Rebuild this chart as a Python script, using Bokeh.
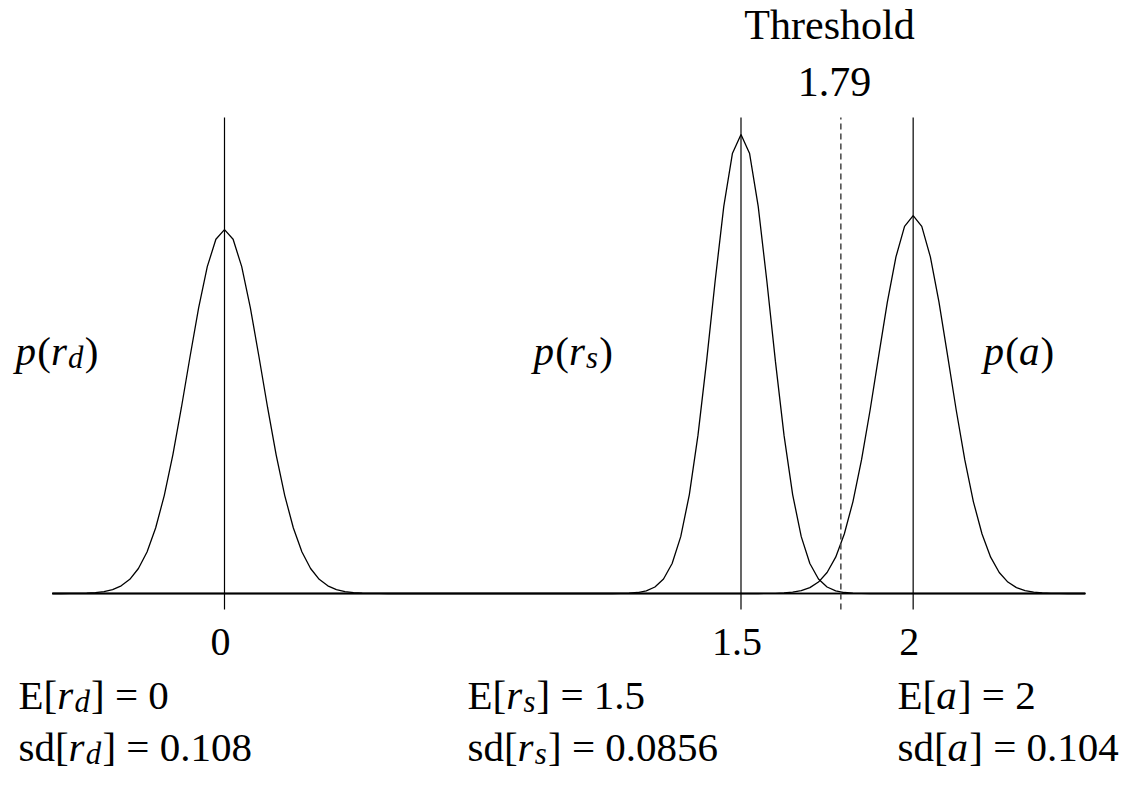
from bokeh.plotting import figure
from bokeh.models import Range1d, ColumnDataSource
from bokeh.core.properties import value
from bokeh.embed import file_html
from bokeh.resources import INLINE

# ---------------- data ----------------
MEANS = [0.0, 1.5, 2.0]
SDS = [0.108, 0.0856, 0.104]
THRESHOLD = 1.79
TICKS = [0.0, 1.5, 2.0]
TICK_LABELS = ["0", "1.5", "2"]
STEP = 0.025            # spacing of the curve vertices
X_MIN, X_MAX = -0.5, 2.5
# density values at mean, mean±STEP, mean±2*STEP, ... (curves are symmetric)
RD_HALF = [3.694, 3.596, 3.318, 2.902, 2.406, 1.891, 1.408, 0.994, 0.665, 0.422,
           0.254, 0.144, 0.078, 0.040, 0.019, 0.009, 0.004, 0.002, 0.001, 0.0]
RS_HALF = [4.661, 4.466, 3.930, 3.175, 2.356, 1.605, 1.004, 0.577, 0.304, 0.147,
           0.066, 0.027, 0.010, 0.003, 0.001, 0.0]
A_HALF = [3.836, 3.727, 3.417, 2.958, 2.416, 1.863, 1.356, 0.931, 0.604, 0.369,
          0.213, 0.116, 0.060, 0.029, 0.013, 0.006, 0.002, 0.001, 0.0]
HALVES = [RD_HALF, RS_HALF, A_HALF]
SUBS = ["d", "s", None]   # variable names: r_d, r_s, a

# ---------------- layout ----------------
W, H = 1121, 786
PX_PER_X, PX_PER_Y = 344.33, 98.5
ORIGIN_CX, ORIGIN_CY = 224, 593          # canvas px of (0, 0)
x_start = -ORIGIN_CX / PX_PER_X
x_end = (W - ORIGIN_CX) / PX_PER_X
y_end = ORIGIN_CY / PX_PER_Y
y_start = -(H - ORIGIN_CY) / PX_PER_Y


def cx(px):
    return x_start + px / PX_PER_X


def cy(py):
    return y_end - py / PX_PER_Y


p = figure(width=W, height=H, x_range=Range1d(x_start, x_end),
           y_range=Range1d(y_start, y_end), min_border=0,
           toolbar_location=None, output_backend="svg",
           x_axis_location=None, y_axis_location=None,
           outline_line_color=None, background_fill_color="white",
           border_fill_color="white")
p.grid.visible = False

# baseline (axis line)
p.segment(x0=[X_MIN], y0=[0], x1=[X_MAX], y1=[0], line_color="black", line_width=1.6)

# density curves
for mean, half in zip(MEANS, HALVES):
    n = len(half)
    ys = half[::-1] + half[1:]
    xs = [mean + STEP * k for k in range(-(n - 1), n)]
    xs = [X_MIN] + xs + [X_MAX]
    ys = [0.0] + ys + [0.0]
    p.line(xs, ys, line_color="black", line_width=1.3)

# vertical lines at the means and threshold
V_TOP, V_BOT = cy(117), cy(609)
p.segment(x0=MEANS, y0=[V_BOT] * 3, x1=MEANS, y1=[V_TOP] * 3,
          line_color="black", line_width=1.2)
p.segment(x0=[THRESHOLD], y0=[V_BOT], x1=[THRESHOLD], y1=[V_TOP],
          line_color="#444444", line_width=1.5, line_dash="6 4")

# ---------------- text ----------------
FONT = "Liberation Serif"
FS = 41
ROMAN = {"E": .611, "[": .333, "]": .333, "(": .333, ")": .333, " ": .25, "=": .564,
         ".": .25, "s": .389, "d": .5}
for dch in "0123456789":
    ROMAN[dch] = .5
ITALIC = {"p": .5, "r": .389, "d": .5, "s": .389, "a": .5}

rows = dict(x=[], y=[], text=[], xo=[], yo=[], fstyle=[], fsize=[])


def add_rich(left_px, base_px, parts, size=FS):
    off = 0.0
    for txt, kind in parts:
        s = size * 0.75 if kind == "sub" else size
        italic = kind in ("it", "sub")
        rows["x"].append(cx(left_px))
        rows["y"].append(cy(base_px))
        rows["text"].append(txt)
        rows["xo"].append(off)
        rows["yo"].append(7 if kind == "sub" else 0)
        rows["fstyle"].append("italic" if italic else "normal")
        rows["fsize"].append(f"{s:.1f}px")
        table = ITALIC if italic else ROMAN
        off += sum(table.get(c, .5) for c in txt) * s
        if italic:
            off += 0.03 * size


def var_parts(sub, letter_if_none="a"):
    if sub is None:
        return [(letter_if_none, "it")]
    return [("r", "it"), (sub, "sub")]


P_LEFT = [15, 533, 983]
P_BASE = 350
COL_LEFT = [18, 467, 897]
ROW1, ROW2 = 694, 746

for i, sub in enumerate(SUBS):
    add_rich(P_LEFT[i], P_BASE, [("p", "it"), ("(", "rm")] + var_parts(sub) + [(")", "rm")])
    mean_txt = TICK_LABELS[i]
    add_rich(COL_LEFT[i], ROW1, [("E[", "rm")] + var_parts(sub) + [(f"] = {mean_txt}", "rm")])
    add_rich(COL_LEFT[i], ROW2, [("sd[", "rm")] + var_parts(sub) + [(f"] = {SDS[i]:g}", "rm")])

src = ColumnDataSource(rows)
p.text(x="x", y="y", text="text", x_offset="xo", y_offset="yo",
       text_font_style="fstyle", text_font_size="fsize", text_font=value(FONT),
       text_align="left", text_baseline="alphabetic", text_color="black", source=src)

# tick labels
p.text(x=TICKS, y=[0] * 3, text=TICK_LABELS, x_offset=-4, y_offset=48,
       text_font=value(FONT), text_font_size="40px", text_align="center",
       text_baseline="alphabetic", text_color="black")

# threshold annotation
p.text(x=[cx(829), cx(834)], y=[cy(24), cy(81)], text=["Threshold", f"{THRESHOLD:g}"],
       text_font=value(FONT), text_font_size="42px", text_align="center",
       text_baseline="alphabetic", text_color="black")

open("out.html", "w").write(file_html(p, INLINE))
